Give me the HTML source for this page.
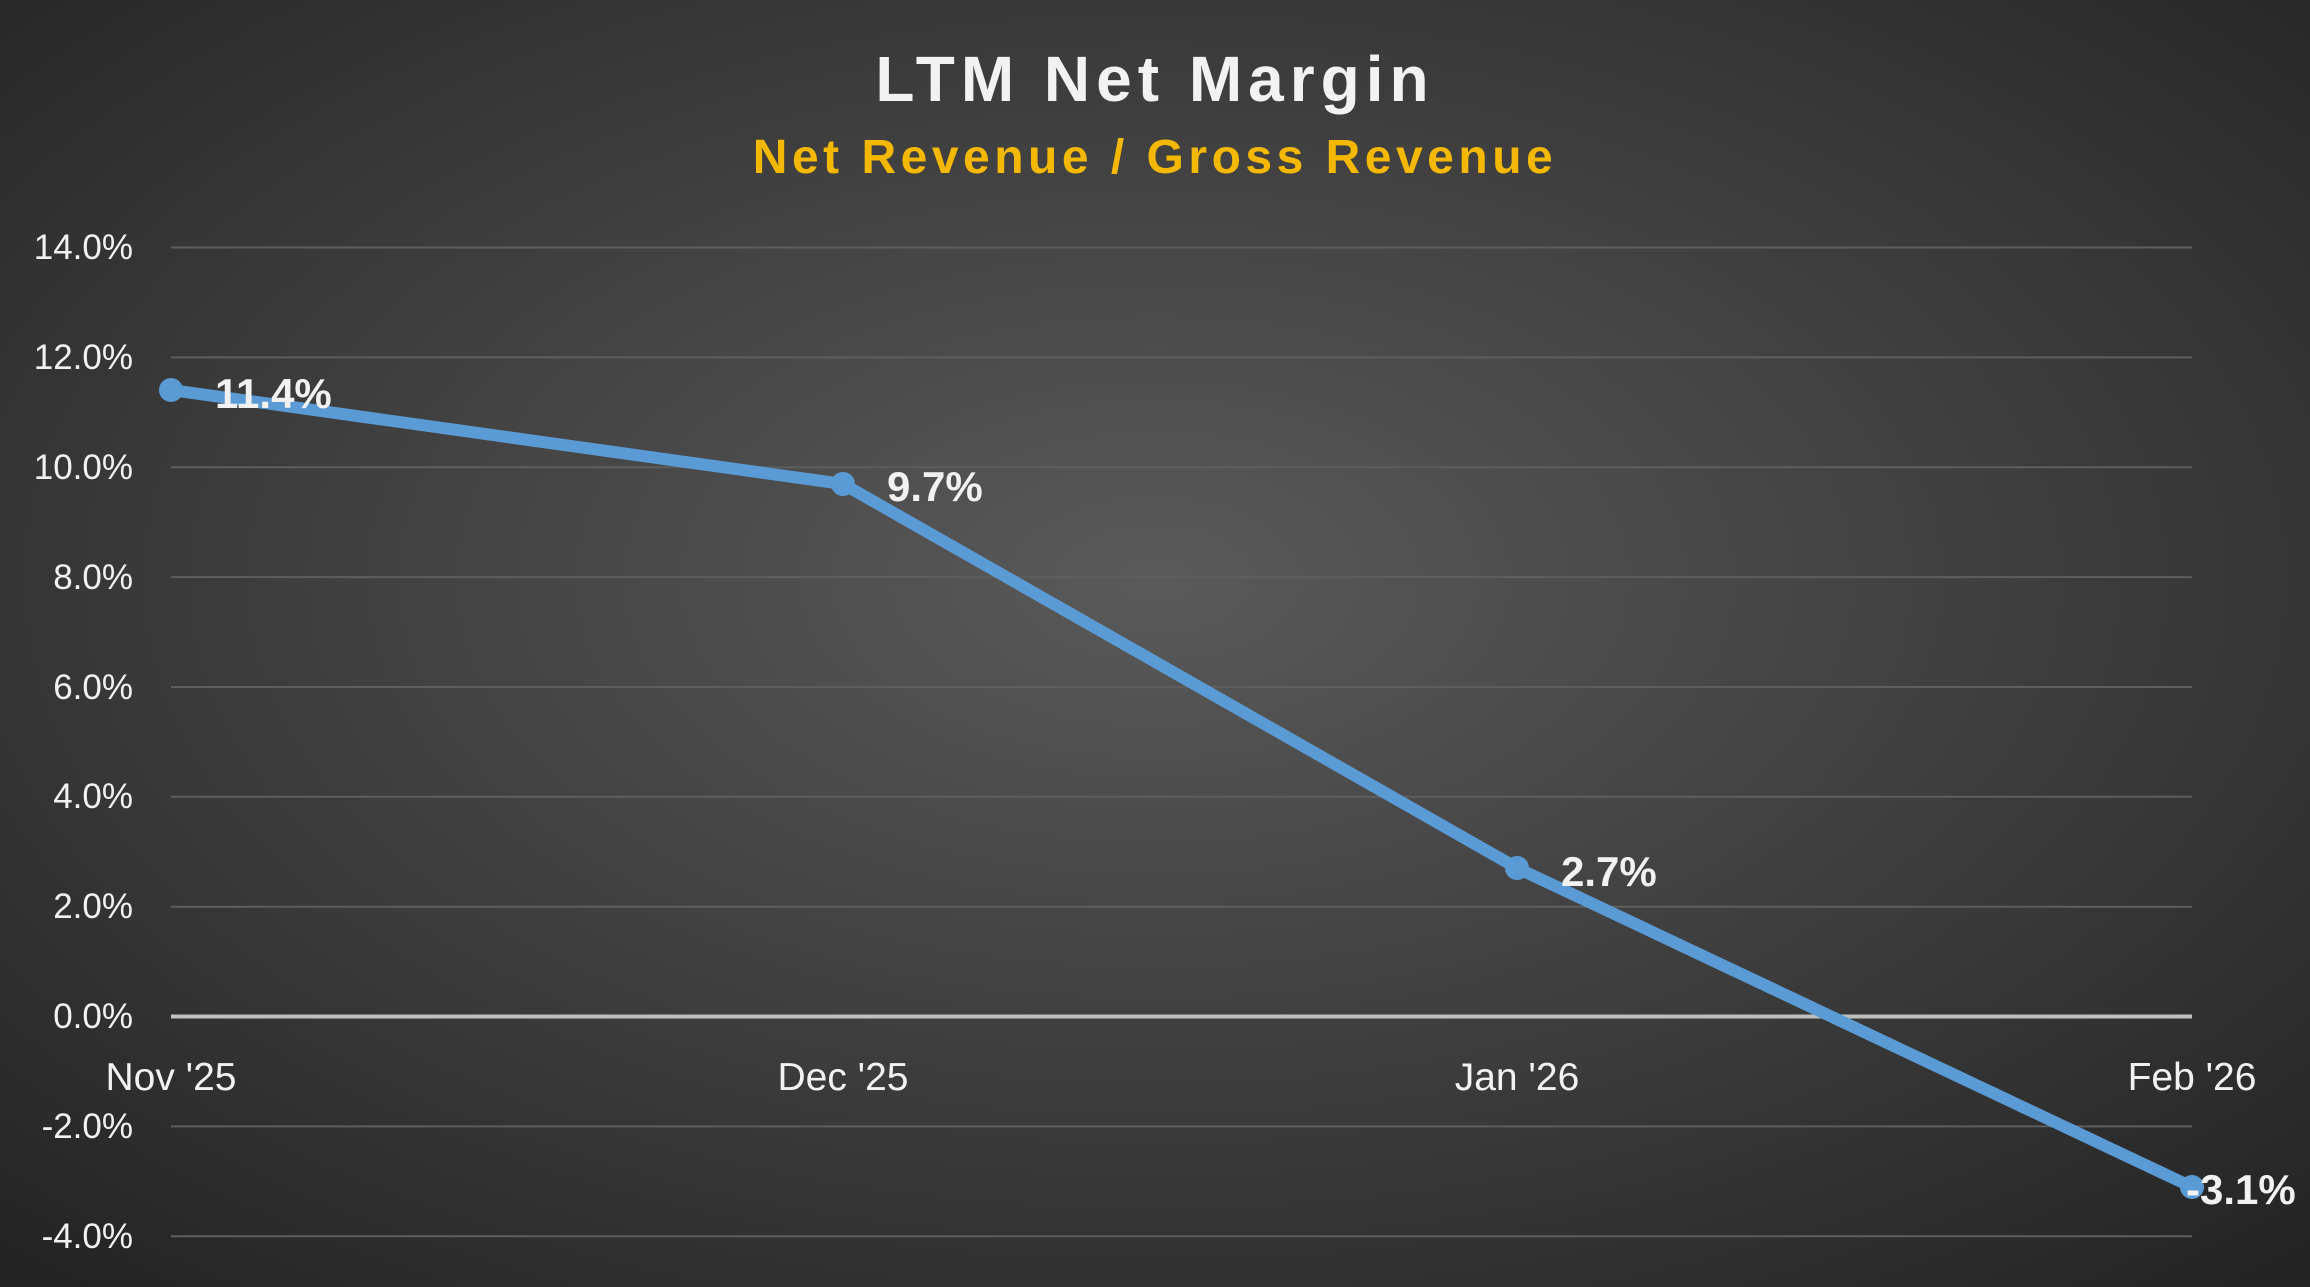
<!DOCTYPE html>
<html><head><meta charset="utf-8"><style>
html,body{margin:0;padding:0;width:2310px;height:1287px;overflow:hidden;background:#333;}
</style></head><body>
<svg width="2310" height="1287" viewBox="0 0 2310 1287" xmlns="http://www.w3.org/2000/svg" font-family="Liberation Sans, sans-serif">
<defs>
<radialGradient id="bg" cx="50%" cy="45%" r="75%">
<stop offset="0" stop-color="#5a5a5a"/>
<stop offset="1" stop-color="#222222"/>
</radialGradient>
</defs>
<rect width="2310" height="1287" fill="url(#bg)"/>
<text x="1155" y="101" text-anchor="middle" font-size="64" font-weight="bold" fill="#f2f2f2" letter-spacing="6">LTM Net Margin</text>
<text x="1155" y="173" text-anchor="middle" font-size="48" font-weight="bold" fill="#f5b800" letter-spacing="4.5">Net Revenue / Gross Revenue</text>
<g stroke="#5e5e5e" stroke-width="2">
<line x1="171" x2="2192" y1="247.5" y2="247.5"/>
<line x1="171" x2="2192" y1="357.4" y2="357.4"/>
<line x1="171" x2="2192" y1="467.2" y2="467.2"/>
<line x1="171" x2="2192" y1="577.1" y2="577.1"/>
<line x1="171" x2="2192" y1="687" y2="687"/>
<line x1="171" x2="2192" y1="796.8" y2="796.8"/>
<line x1="171" x2="2192" y1="906.7" y2="906.7"/>
<line x1="171" x2="2192" y1="1126.4" y2="1126.4"/>
<line x1="171" x2="2192" y1="1236.2" y2="1236.2"/>
</g>
<line x1="171" x2="2192" y1="1016.5" y2="1016.5" stroke="#bfbfbf" stroke-width="4"/>
<g font-size="35" fill="#f2f2f2" text-anchor="end">
<text x="133" y="259">14.0%</text>
<text x="133" y="369">12.0%</text>
<text x="133" y="479">10.0%</text>
<text x="133" y="589">8.0%</text>
<text x="133" y="699">6.0%</text>
<text x="133" y="808">4.0%</text>
<text x="133" y="918">2.0%</text>
<text x="133" y="1028">0.0%</text>
<text x="133" y="1138">-2.0%</text>
<text x="133" y="1248">-4.0%</text>
</g>
<g font-size="39" fill="#f2f2f2" text-anchor="middle">
<text x="171" y="1090">Nov '25</text>
<text x="843" y="1090">Dec '25</text>
<text x="1517" y="1090">Jan '26</text>
<text x="2192" y="1090">Feb '26</text>
</g>
<polyline points="171,390 843,484 1517,868 2192,1187" fill="none" stroke="#5b9bd5" stroke-width="12" stroke-linejoin="round"/>
<g fill="#5b9bd5">
<circle cx="171" cy="390" r="12"/><circle cx="843" cy="484" r="12"/><circle cx="1517" cy="868" r="12"/><circle cx="2192" cy="1187" r="12"/>
</g>
<g font-size="42" font-weight="bold" fill="#f2f2f2">
<text x="215" y="408">11.4%</text>
<text x="887" y="501">9.7%</text>
<text x="1561" y="886">2.7%</text>
<text x="2186" y="1204">-3.1%</text>
</g>
</svg>
</body></html>
